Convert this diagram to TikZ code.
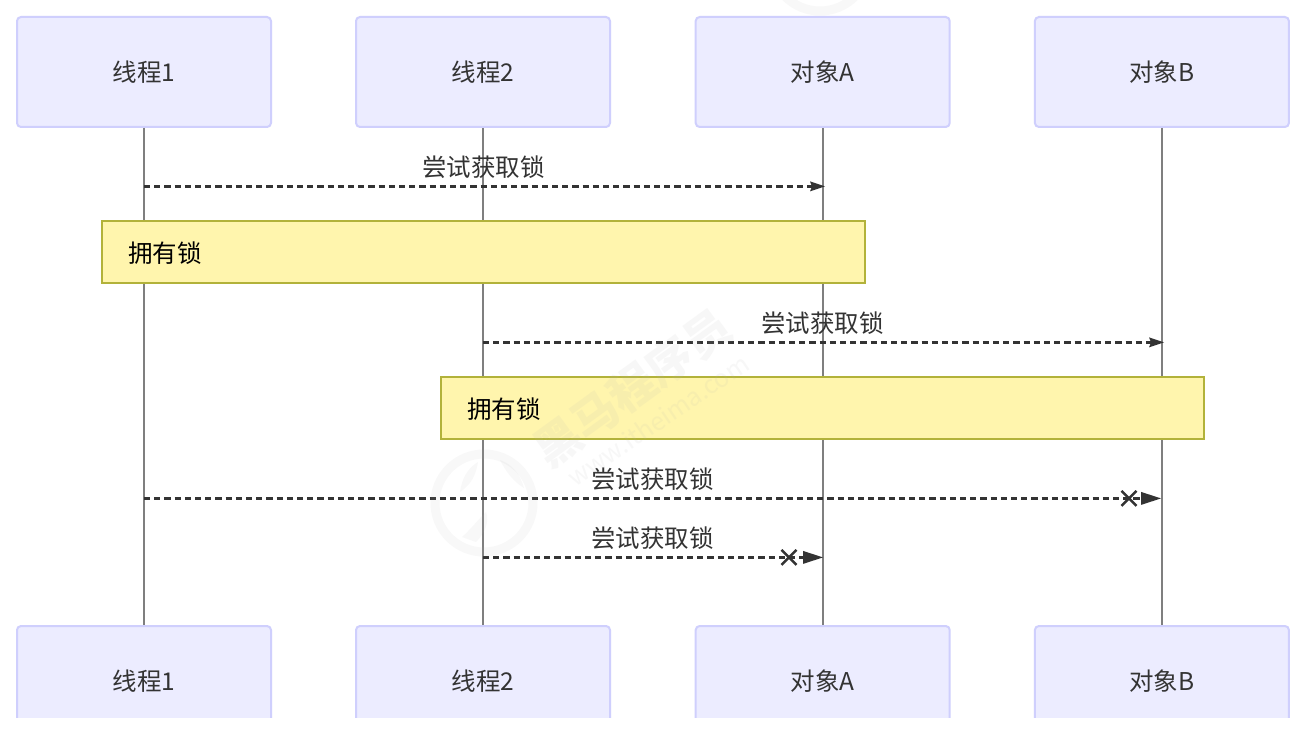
\documentclass[tikz,border=0pt]{standalone}
\usepackage{fontspec}
\setmainfont{Noto Sans CJK SC}
\usetikzlibrary{arrows.meta}
\definecolor{actorline}{HTML}{CFCFFD}
\definecolor{actorfill}{HTML}{ECECFF}
\definecolor{lifegray}{HTML}{7F7F7F}
\definecolor{inktext}{HTML}{333333}
\definecolor{noteline}{HTML}{B2B23A}
\definecolor{notefill}{HTML}{FFF5AD}
\definecolor{markgray}{HTML}{B4B4B4}
\tikzset{
  x=1pt,y=-1pt,
  actor/.style={draw=actorline,fill=actorfill,line width=2pt,rounded corners=4pt,
    minimum width=254pt,minimum height=110pt,inner sep=0pt,text=inktext,font=\fontsize{24.5}{28}\selectfont},
  lifeline/.style={draw=lifegray,line width=1.6pt},
  message/.style={draw=inktext,line width=2.4pt,dash pattern=on 6.2pt off 4pt},
  msglabel/.style={text=inktext,inner sep=0pt,font=\fontsize{24.5}{28}\selectfont},
  notebox/.style={draw=noteline,fill=notefill,line width=2pt,minimum height=62pt,minimum width=763pt,inner sep=0pt},
  notetext/.style={text=black,inner sep=0pt,anchor=west,font=\fontsize{24.5}{28}\selectfont},
  crossmark/.style={draw=inktext,line width=2.5pt},
  seal/.style={draw=markgray,line width=9pt,opacity=.09},
  sealpart/.style={fill=markgray,opacity=.09},
  brand/.style={rotate=36,text=markgray,text opacity=.1,inner sep=0pt},
}
\begin{document}
\begin{tikzpicture}
  \useasboundingbox (0,0) rectangle (1315,733);
  \fill[white] (0,0) rectangle (1315,733);

  % participants, top row and bottom row
  \node[actor] (t1) at (144,72) {线程1};
  \node[actor] (t2) at (483,72) {线程2};
  \node[actor] (oa) at (822.7,72) {对象A};
  \node[actor] (ob) at (1161.9,72) {对象B};
  \node[actor] (t1b) at (144,681) {线程1};
  \node[actor] (t2b) at (483,681) {线程2};
  \node[actor] (oab) at (822.7,681) {对象A};
  \node[actor] (obb) at (1161.9,681) {对象B};
  \fill[white] (0,718) rectangle (1315,745);

  % lifelines
  \draw[lifeline] (t1.south) -- (t1b.north);
  \draw[lifeline] (t2.south) -- (t2b.north);
  \draw[lifeline] (oa.south) -- (oab.north);
  \draw[lifeline] (ob.south) -- (obb.north);

  % end points of the messages on the lifelines
  \coordinate (m1a) at (144,186.4);   \coordinate (m1b) at (825,186.4);
  \coordinate (m2a) at (483,342.4);   \coordinate (m2b) at (1164,342.4);
  \coordinate (m3a) at (144,498.4);   \coordinate (m3b) at (1161,498.4);
  \coordinate (m4a) at (483,557.4);   \coordinate (m4b) at (823,557.4);
  \coordinate (x3) at (1129,498.4);
  \coordinate (x4) at (789,557.4);

  % messages that arrive
  \draw[message] (m1a) -- ([xshift=-12pt]m1b);
  \fill[inktext] (m1b) -- ++(-15,-5) -- ++(2,5) -- ++(-2,5) -- cycle;
  \node[msglabel] (l1) at (483.5,167) {尝试获取锁};
  \draw[message] (m2a) -- ([xshift=-12pt]m2b);
  \fill[inktext] (m2b) -- ++(-15,-5) -- ++(2,5) -- ++(-2,5) -- cycle;
  \node[msglabel] (l2) at (822.5,323) {尝试获取锁};

  % notes, over the lifelines
  \node[notebox] (n1) at (483.3,251.7) {};
  \node[notetext] (n1t) at (128,253) {拥有锁};
  \node[notebox] (n2) at (822.7,407.7) {};
  \node[notetext] (n2t) at (467,409) {拥有锁};

  % messages that are lost
  \draw[message] (m3a) -- ([xshift=-4pt]m3b);
  \fill[inktext] (m3b) -- ++(-20,-6.5) -- ++(0,13) -- cycle;
  \draw[crossmark] (x3) ++(-7.5,-7.5) -- ++(15,15) (x3) ++(7.5,-7.5) -- ++(-15,15);
  \node[msglabel] (l3) at (652.5,479) {尝试获取锁};
  \draw[message] (m4a) -- ([xshift=-4pt]m4b);
  \fill[inktext] (m4b) -- ++(-20,-6.5) -- ++(0,13) -- cycle;
  \draw[crossmark] (x4) ++(-7.5,-7.5) -- ++(15,15) (x4) ++(7.5,-7.5) -- ++(-15,15);
  \node[msglabel] (l4) at (652.5,538) {尝试获取锁};

  % faint brand mark laid over the sheet
  \begin{scope}
    \clip (0,0) rectangle (1315,718);
    \draw[seal] (484,503) circle[radius=49];
    \draw[seal] (820,-38) circle[radius=49];
    \fill[sealpart] (460,492) .. controls (462,478) and (468,468) .. (478,462)
      .. controls (476,474) and (472,484) .. (460,492) -- cycle;
    \fill[sealpart] (500,460) .. controls (512,464) and (520,474) .. (524,488)
      .. controls (514,482) and (506,472) .. (500,460) -- cycle;
    \fill[sealpart] (462,537) .. controls (470,530) and (476,522) .. (486,512)
      .. controls (490,522) and (484,534) .. (476,542) -- cycle;
    \node[brand,font=\bfseries\fontsize{46}{50}\selectfont] (wm1) at (632,388) {黑马程序员};
    \node[brand,rotate=-2,font=\fontsize{25}{28}\selectfont] (wm2) at (658,420) {www.itheima.com};
  \end{scope}
\end{tikzpicture}
\end{document}
